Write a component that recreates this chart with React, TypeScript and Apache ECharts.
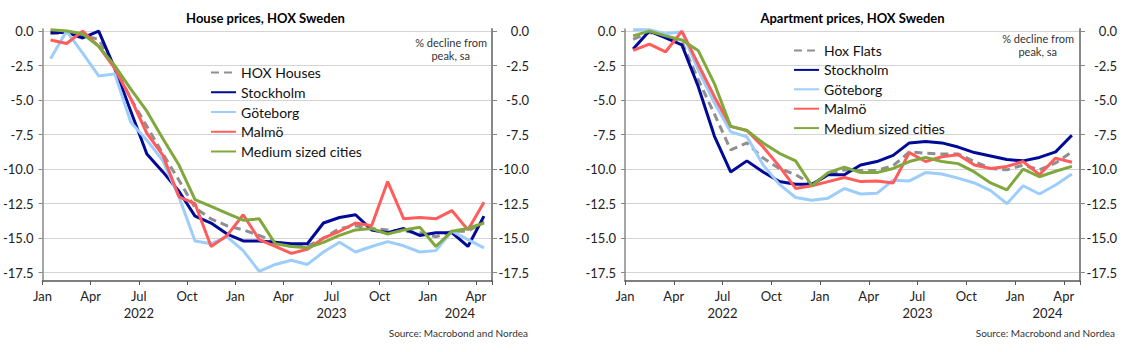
import React, { useEffect, useRef } from 'react';
import * as echarts from 'echarts';

const categories = [
  'Jan 2022', 'Feb 2022', 'Mar 2022', 'Apr 2022', 'May 2022', 'Jun 2022',
  'Jul 2022', 'Aug 2022', 'Sep 2022', 'Oct 2022', 'Nov 2022', 'Dec 2022',
  'Jan 2023', 'Feb 2023', 'Mar 2023', 'Apr 2023', 'May 2023', 'Jun 2023',
  'Jul 2023', 'Aug 2023', 'Sep 2023', 'Oct 2023', 'Nov 2023', 'Dec 2023',
  'Jan 2024', 'Feb 2024', 'Mar 2024', 'Apr 2024',
];
const monthNames = ['Jan', 'Feb', 'Mar', 'Apr', 'May', 'Jun', 'Jul', 'Aug', 'Sep', 'Oct', 'Nov', 'Dec'];
const years = ['2022', '2023', '2024'];
const yTicks = [0, -2.5, -5, -7.5, -10, -12.5, -15, -17.5];

// House prices
const hoxHouses = [-0.2, -0.1, -0.3, -0.6, -2.6, -4.9, -6.9, -8.9, -10.8, -12.8, -13.6, -14.1, -14.4, -14.8, -15.3, -15.6, -15.6, -15.0, -14.3, -14.1, -14.3, -14.4, -14.5, -14.6, -14.9, -14.5, -14.5, -13.8];
const housesStockholm = [-0.1, -0.1, -0.5, 0.0, -2.7, -5.8, -8.9, -10.2, -11.6, -13.4, -13.9, -14.7, -15.2, -15.2, -15.3, -15.4, -15.4, -13.9, -13.5, -13.3, -14.4, -14.6, -14.3, -14.8, -14.6, -14.6, -15.6, -13.4];
const housesGoteborg = [-2.0, 0.0, -1.6, -3.25, -3.1, -6.6, -7.9, -9.4, -12.0, -15.2, -15.4, -14.9, -15.9, -17.4, -16.9, -16.6, -16.9, -16.0, -15.3, -16.0, -15.6, -15.25, -15.55, -16.0, -15.9, -14.5, -15.1, -15.7];
const housesMalmo = [-0.65, -0.9, 0.0, -1.1, -2.7, -4.9, -7.4, -9.0, -12.0, -12.5, -15.6, -14.8, -13.3, -15.1, -15.6, -16.1, -15.8, -15.0, -14.5, -13.9, -14.1, -10.9, -13.6, -13.5, -13.6, -13.0, -14.4, -12.4];
const housesMedium = [0.1, 0.0, -0.2, -1.1, -2.5, -4.2, -5.8, -7.8, -9.7, -12.2, -12.7, -13.2, -13.7, -13.6, -15.4, -15.6, -15.7, -15.3, -14.8, -14.4, -14.3, -14.7, -14.4, -14.2, -15.6, -14.5, -14.3, -13.9];

// Apartment prices
const hoxFlats = [-0.6, -0.1, -0.4, -0.8, -3.5, -6.0, -8.6, -8.1, -9.2, -9.95, -10.4, -11.1, -10.4, -10.05, -10.1, -10.1, -9.75, -8.75, -8.85, -8.9, -8.9, -9.45, -9.95, -10.05, -9.7, -10.05, -9.55, -8.75];
const flatsStockholm = [-1.3, 0.0, -0.5, -1.0, -4.0, -7.6, -10.2, -9.4, -10.2, -10.9, -11.1, -11.1, -10.4, -10.4, -9.7, -9.45, -9.0, -8.1, -8.0, -8.1, -8.4, -8.8, -9.05, -9.3, -9.4, -9.15, -8.75, -7.55];
const flatsGoteborg = [0.1, 0.1, -0.2, -0.05, -2.8, -5.2, -7.3, -7.65, -9.7, -11.1, -12.05, -12.25, -12.1, -11.4, -11.8, -11.75, -10.8, -10.85, -10.25, -10.35, -10.65, -11.0, -11.55, -12.5, -11.2, -11.8, -11.15, -10.35];
const flatsMalmo = [-1.4, -0.95, -1.5, 0.0, -2.4, -4.75, -6.9, -7.2, -8.4, -9.8, -11.4, -11.2, -10.9, -10.6, -10.9, -10.85, -11.0, -8.8, -9.45, -9.1, -8.95, -9.7, -9.95, -9.8, -9.45, -10.4, -9.2, -9.5];
const flatsMedium = [-0.35, 0.0, -0.35, -0.65, -1.4, -3.8, -6.9, -7.2, -8.1, -8.85, -9.4, -11.2, -10.25, -9.85, -10.25, -10.25, -9.95, -9.45, -9.15, -9.45, -9.6, -10.2, -11.0, -11.5, -10.0, -10.55, -10.15, -9.8];

const FONT = 'Lato, "Noto Sans", sans-serif';
const COLORS = {
  hox: '#8f8f8f',
  sthlm: '#000a96',
  gbg: '#9dcdfb',
  malmo: '#ff5c5c',
  medium: '#80a83c',
};

const nMonths = categories.length; // axis runs from Jan 2022 to the end of Apr 2024

function toPoints(vals: number[]) {
  return categories.map((_, i) => [i + 0.5, vals[i]]);
}

function yearCenter(value: number) {
  for (let k = 0; k < years.length; k++) {
    const s = 12 * k;
    const e = Math.min(nMonths, 12 * k + 12);
    if (value === (s + e) / 2) return years[k];
  }
  return '';
}

function makeAxes(gridIndex: number) {
  const x = [
    {
      type: 'value', gridIndex, min: 0, max: nMonths, interval: 3, position: 'bottom',
      axisLine: { show: true, onZero: false, lineStyle: { color: '#555', width: 1.5 } },
      axisTick: { show: true, length: 4, lineStyle: { color: '#555' } },
      splitLine: { show: false },
      axisLabel: {
        margin: 8, fontSize: 13, color: '#222', fontFamily: FONT,
        formatter: (v: number) => (v < nMonths ? monthNames[v % 12] : ''),
      },
    },
    {
      type: 'value', gridIndex, min: 0, max: nMonths, interval: 1, position: 'bottom', offset: 17,
      axisLine: { show: false, onZero: false }, axisTick: { show: false }, splitLine: { show: false },
      axisLabel: { margin: 8, fontSize: 13, color: '#222', fontFamily: FONT, formatter: (v: number) => yearCenter(v) },
    },
  ];
  const y = [
    {
      type: 'value', gridIndex, min: -18.1, max: 0.15, position: 'left',
      axisLine: { show: true, onZero: false, lineStyle: { color: '#888', width: 1.5 } },
      axisTick: { show: true, length: 4, customValues: yTicks, lineStyle: { color: '#888' } },
      splitLine: { show: true, lineStyle: { color: '#d4d4d4', width: 1 } },
      axisLabel: { customValues: yTicks, margin: 9, fontSize: 13, color: '#222', fontFamily: FONT, formatter: (v: number) => v.toFixed(1) },
    },
    {
      type: 'value', gridIndex, min: -18.1, max: 0.15, position: 'right',
      axisLine: { show: true, onZero: false, lineStyle: { color: '#888', width: 2 } },
      axisTick: { show: true, length: 5, customValues: yTicks, lineStyle: { color: '#888' } },
      splitLine: { show: false },
      axisLabel: { customValues: yTicks, margin: 37, align: 'right', fontSize: 13, color: '#222', fontFamily: FONT, formatter: (v: number) => v.toFixed(1) },
    },
  ];
  return { x, y };
}

function makeSeries(xAxisIndex: number, yAxisIndex: number, list: { name: string; data: number[]; color: string; dashed?: boolean }[]) {
  return list.map((s) => ({
    name: s.name,
    type: 'line',
    xAxisIndex,
    yAxisIndex,
    data: toPoints(s.data),
    showSymbol: false,
    symbol: 'none',
    clip: false,
    lineStyle: { color: s.color, width: 3, type: s.dashed ? [8, 5] : 'solid' },
    itemStyle: { color: s.color },
    emphasis: { disabled: true },
  }));
}

export default function App() {
  const ref = useRef<HTMLDivElement>(null);
  useEffect(() => {
    if (!ref.current) return;
    const chart = echarts.init(ref.current, null, { renderer: 'svg' });
    const a0 = makeAxes(0);
    const a1 = makeAxes(1);
    const leftSeries = makeSeries(0, 0, [
      { name: 'HOX Houses', data: hoxHouses, color: COLORS.hox, dashed: true },
      { name: 'Stockholm', data: housesStockholm, color: COLORS.sthlm },
      { name: 'Göteborg', data: housesGoteborg, color: COLORS.gbg },
      { name: 'Malmö', data: housesMalmo, color: COLORS.malmo },
      { name: 'Medium sized cities', data: housesMedium, color: COLORS.medium },
    ]);
    const rightSeries = makeSeries(2, 2, [
      { name: 'Hox Flats', data: hoxFlats, color: COLORS.hox, dashed: true },
      { name: 'Stockholm', data: flatsStockholm, color: COLORS.sthlm },
      { name: 'Göteborg', data: flatsGoteborg, color: COLORS.gbg },
      { name: 'Malmö', data: flatsMalmo, color: COLORS.malmo },
      { name: 'Medium sized cities', data: flatsMedium, color: COLORS.medium },
    ]);
    const legendBase = {
      orient: 'vertical', padding: 0, itemWidth: 25, itemHeight: 14,
      selectedMode: false,
      itemStyle: { opacity: 0 },
      textStyle: { fontSize: 14, color: '#111', fontFamily: FONT, lineHeight: 16 },
    };
    const note = (x: number, y: number, text: string) => ({
      type: 'text', x, y, silent: true,
      style: { text, font: `11px ${FONT}`, fill: '#333', textAlign: 'right', textVerticalAlign: 'middle' },
    });
    chart.setOption({
      animation: false,
      textStyle: { fontFamily: FONT },
      grid: [
        { left: 38, right: 643, top: 29, bottom: 71 },
        { left: 625, right: 55, top: 29, bottom: 71 },
      ],
      xAxis: [...a0.x, ...a1.x.map((x) => ({ ...x, gridIndex: 1 }))],
      yAxis: [...a0.y, ...a1.y.map((y) => ({ ...y, gridIndex: 1 }))],
      legend: [
        { ...legendBase, left: 210, top: 64.5, itemGap: 3.75, data: ['HOX Houses', 'Stockholm', 'Göteborg', 'Malmö', 'Medium sized cities'] },
        { ...legendBase, left: 793, top: 42.5, itemGap: 3.4, data: ['Hox Flats', 'Stockholm', 'Göteborg', 'Malmö', 'Medium sized cities'] },
      ],
      graphic: [
        { type: 'text', x: 265.5, y: 18, silent: true, style: { text: 'House prices, HOX Sweden', font: `bold 13px ${FONT}`, fill: '#000', textAlign: 'center', textVerticalAlign: 'middle' } },
        { type: 'text', x: 852.5, y: 18, silent: true, style: { text: 'Apartment prices, HOX Sweden', font: `bold 13px ${FONT}`, fill: '#000', textAlign: 'center', textVerticalAlign: 'middle' } },
        note(487, 42, '% decline from'),
        note(470, 55, 'peak, sa'),
        note(1074, 38.5, '% decline from'),
        note(1057, 51, 'peak, sa'),
        { type: 'text', x: 528, y: 333, silent: true, style: { text: 'Source: Macrobond and Nordea', font: `10px ${FONT}`, fill: '#333', textAlign: 'right', textVerticalAlign: 'middle' } },
        { type: 'text', x: 1115, y: 333, silent: true, style: { text: 'Source: Macrobond and Nordea', font: `10px ${FONT}`, fill: '#333', textAlign: 'right', textVerticalAlign: 'middle' } },
      ],
      series: [...leftSeries, ...rightSeries],
    });
    return () => chart.dispose();
  }, []);
  return <div ref={ref} style={{ position: 'absolute', left: 0, top: 0, width: 1135, height: 352, background: '#fff' }} />;
}
